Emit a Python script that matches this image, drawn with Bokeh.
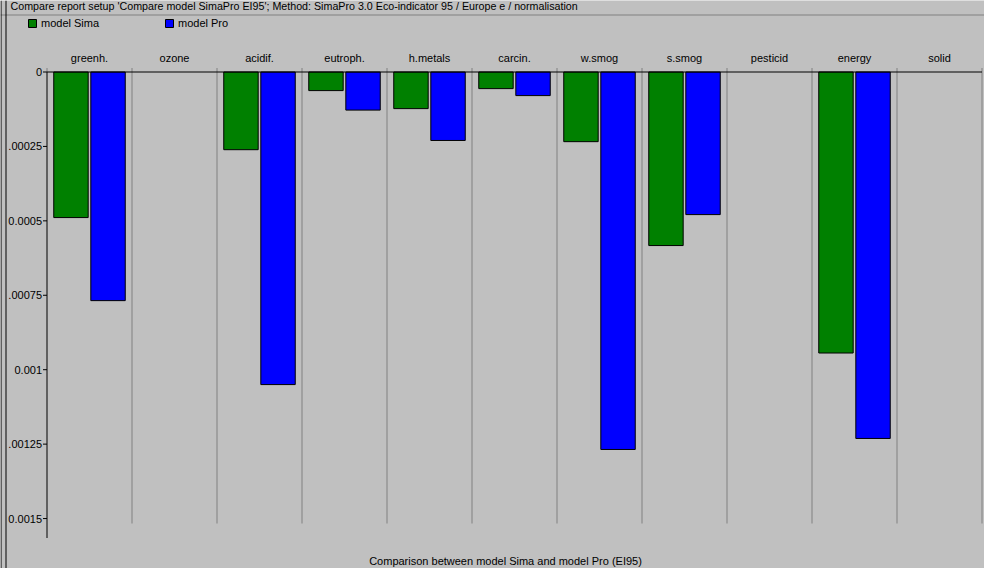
import numpy as np
from bokeh.plotting import figure
from bokeh.models import (Range1d, Legend, LegendItem, ColumnDataSource, Span, Label)
from bokeh.core.properties import value
from bokeh.embed import file_html
from bokeh.resources import INLINE

# ---- data ----
categories = ["greenh.", "ozone", "acidif.", "eutroph.", "h.metals", "carcin.",
              "w.smog", "s.smog", "pesticid", "energy", "solid"]
model_sima = [0.000489, 0.0, 0.000261, 0.0000625, 0.000123, 0.0000558,
              0.000234, 0.000583, 0.0, 0.000944, 0.0]
model_pro = [0.000768, 0.0, 0.00105, 0.000128, 0.000230, 0.0000793,
             0.001268, 0.000479, 0.0, 0.001231, 0.0]
y_ticks = [0, 0.00025, 0.0005, 0.00075, 0.001, 0.00125, 0.0015]
y_tick_labels = ["0", ".00025", "0.0005", ".00075", "0.001", ".00125", "0.0015"]
series_names = ["model Sima", "model Pro"]
series_colors = ["#008000", "#0000FF"]
title_text = ("Compare report setup 'Compare model  SimaPro EI95';  Method: SimaPro 3.0 "
              "Eco-indicator 95 /  Europe e / normalisation")
x_title = "Comparison between model Sima and model Pro (EI95)"

# ---- layout (pixels) ----
W, H = 984, 568
AXIS_LEFT_PX = 46.5      # y-axis line
CAT_W_PX = 85.0          # width of one category slot
ZERO_Y_PX = 71.5         # category axis line (value 0)
PX_PER_VALUE = 297700.0  # pixels per unit of value
AXIS_END_PX = 537.5      # bottom of the value axis line
GRID_END_PX = 523.0      # bottom of the vertical separators
FONT = "Liberation Sans"
FS = "11px"
BG = "#c0c0c0"


def px_x(px):
    return (px - AXIS_LEFT_PX) / CAT_W_PX


def px_y(px):
    return (px - ZERO_Y_PX) / PX_PER_VALUE


n = len(categories)
centers = np.arange(n) + 0.5
bounds = [float(b) for b in range(n + 1)]
offset = 0.218
bar_w = 0.405

p = figure(width=W, height=H, title=None,
           x_range=Range1d(px_x(0), px_x(W)), y_range=Range1d(px_y(H), px_y(0)),
           x_axis_location=None, y_axis_location=None,
           output_backend="svg", toolbar_location=None,
           min_border_left=0, min_border_right=0, min_border_top=0, min_border_bottom=0,
           background_fill_color=BG, border_fill_color=BG, outline_line_color=None)
p.grid.visible = False

# vertical separators between categories
p.segment(x0=bounds[1:], y0=0.0, x1=bounds[1:], y1=px_y(GRID_END_PX),
          line_color="#808080", line_width=1)

# bars (empty values get no outline)
renderers = []
for vals, off, col in zip([model_sima, model_pro], [-offset, offset], series_colors):
    src = ColumnDataSource(dict(x=centers + off, top=vals,
                                la=[1.0 if v > 0 else 0.0 for v in vals]))
    r = p.vbar(x="x", top="top", bottom=0, width=bar_w, source=src,
               fill_color=col, line_color="black", line_width=1, line_alpha="la")
    renderers.append(r)

# category axis (top): boundary ticks, labels, line
p.segment(x0=bounds, y0=0.0, x1=bounds, y1=px_y(ZERO_Y_PX - 4),
          line_color="#808080", line_width=1)
p.text(x=centers, y=px_y(57.5), text=categories, text_font=value(FONT),
       text_font_size=value(FS), text_color="black", text_align="center",
       text_baseline="middle")
p.quad(left=[bounds[0]], right=[bounds[-1]], top=[px_y(ZERO_Y_PX - 0.5)],
       bottom=[px_y(ZERO_Y_PX + 0.5)], fill_color="black", line_color=None)

# value axis (left): line, ticks, labels
p.quad(left=[px_x(AXIS_LEFT_PX - 0.5)], right=[px_x(AXIS_LEFT_PX + 0.5)], top=[0.0],
       bottom=[px_y(AXIS_END_PX)], fill_color="black", line_color=None)
p.segment(x0=px_x(AXIS_LEFT_PX - 4), y0=y_ticks, x1=0.0, y1=y_ticks,
          line_color="black", line_width=1)
p.text(x=px_x(AXIS_LEFT_PX - 5), y=y_ticks, text=y_tick_labels, text_font=value(FONT),
       text_font_size=value(FS), text_color="black", text_align="right",
       text_baseline="middle")

# window frame lines
p.add_layout(Span(dimension="width", location=px_y(14.5), line_color="#808080", line_width=1))
p.add_layout(Span(dimension="height", location=px_x(0.5), line_color="black", line_width=1))
p.add_layout(Span(dimension="height", location=px_x(5.5), line_color="black", line_width=1))

# legend
legend = Legend(items=[LegendItem(label=nm, renderers=[r]) for nm, r in zip(series_names, renderers)],
                location=(27, H - 29), orientation="horizontal",
                glyph_width=10, glyph_height=10, label_height=10, label_standoff=4,
                label_width=123, spacing=0, padding=0, margin=0,
                label_text_font=FONT, label_text_font_size=FS, label_text_color="black",
                background_fill_alpha=0, border_line_color=None)
p.add_layout(legend)

# title and axis caption
p.add_layout(Label(x=px_x(10), y=px_y(5.5), text=title_text, text_font=FONT,
                   text_font_size="10.7px", text_color="black", text_baseline="middle"))
p.add_layout(Label(x=px_x(505), y=px_y(560), text=x_title, text_font=FONT,
                   text_font_size=FS, text_color="black", text_baseline="middle",
                   text_align="center"))

open("out.html", "w").write(file_html(p, INLINE))
